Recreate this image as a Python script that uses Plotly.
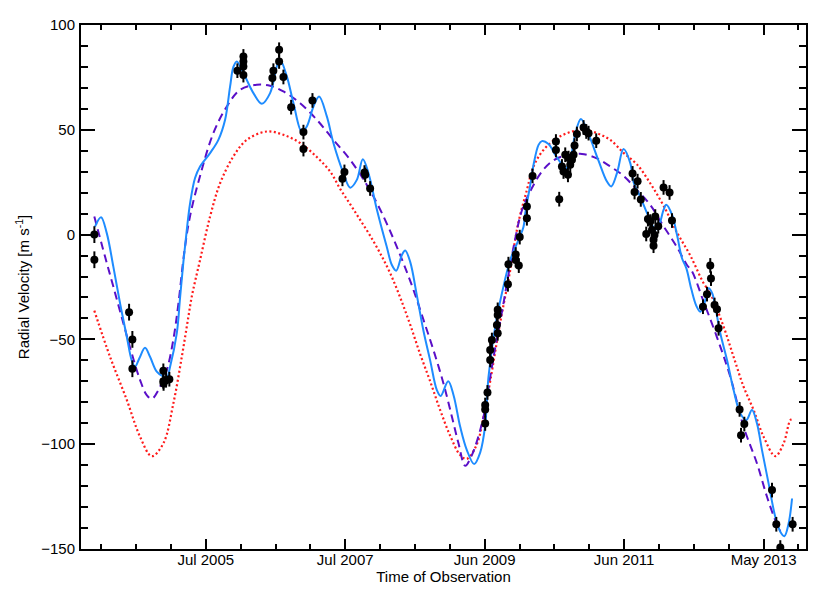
import numpy as np
import plotly.graph_objects as go

# ---------------- data ----------------
obs_year = [2004.023, 2004.023, 2004.508, 2004.554, 2004.554, 2004.987, 2004.987, 2004.990, 2005.025, 2005.071,
            2006.022, 2006.106, 2006.106, 2006.106, 2006.106, 2006.511, 2006.525, 2006.605, 2006.605, 2006.665,
            2006.773, 2006.945, 2006.945, 2007.071, 2007.490, 2007.518, 2007.798, 2007.808, 2007.877,
            2009.485, 2009.485, 2009.485, 2009.517, 2009.555, 2009.555, 2009.579, 2009.649, 2009.660, 2009.660,
            2009.660, 2009.803, 2009.810, 2009.912, 2009.912, 2009.955, 2009.968, 2010.068, 2010.068, 2010.147,
            2010.474, 2010.474, 2010.520, 2010.558, 2010.580, 2010.604, 2010.642, 2010.650, 2010.674, 2010.698,
            2010.720, 2010.734, 2010.767, 2010.860, 2010.898, 2010.930, 2011.037,
            2011.545, 2011.573, 2011.615, 2011.660, 2011.978, 2012.062, 2012.096, 2011.760, 2011.862, 2011.792,
            2011.904, 2011.736, 2011.816, 2011.852, 2011.838, 2011.838,
            2012.529, 2012.585, 2012.631, 2012.641, 2012.691, 2012.725, 2012.747, 2013.041, 2013.061, 2013.107,
            2013.494, 2013.554, 2013.610, 2013.782]
obs_rv = [0.0, -12.0, -37.0, -50.0, -64.0, -65.0, -70.0, -71.0, -69.5, -69.0,
          78.2, 85.0, 82.6, 80.2, 76.1, 74.7, 78.2, 88.2, 82.6, 75.2,
          60.8, 48.9, 40.8, 64.0, 26.6, 29.9, 29.6, 28.5, 22.0,
          -90.1, -83.4, -81.3, -75.3, -59.8, -55.1, -50.3, -43.1, -47.1, -38.3,
          -35.9, -23.7, -14.1, -9.5, -12.1, -14.8, -1.2, 7.8, 13.4, 28.0,
          44.4, 40.4, 16.9, 32.5, 30.1, 38.1, 28.5, 36.5, 33.3, 35.7,
          38.1, 42.5, 48.0, 51.1, 49.2, 48.4, 44.8,
          29.2, 20.3, 25.5, 16.8, 22.5, 20.1, 6.7, 7.4, 8.6, 6.2,
          4.0, 0.3, 2.2, -0.2, -2.5, -5.3,
          -34.4, -28.4, -14.7, -21.0, -33.6, -35.6, -44.7, -83.4, -95.7, -90.4,
          -121.9, -138.2, -149.3, -138.2]
obs_err = [4.0, 4.0, 4.0, 4.0, 4.0, 3.5, 3.5, 3.5, 3.5, 3.5,
           3.5, 3.5, 3.5, 3.5, 3.5, 3.5, 3.5, 3.5, 3.5, 3.5,
           3.5, 3.5, 3.5, 3.5, 3.5, 3.5, 3.5, 3.5, 3.5,
           3.5, 3.5, 3.5, 3.5, 3.5, 3.5, 3.5, 3.5, 3.5, 3.5,
           3.5, 3.5, 3.5, 3.5, 3.5, 3.5, 3.5, 3.5, 3.5, 3.5,
           3.5, 3.5, 3.5, 3.5, 3.5, 3.5, 3.5, 3.5, 3.5, 3.5,
           3.5, 3.5, 3.5, 3.5, 3.5, 3.5, 3.5,
           3.5, 3.5, 3.5, 3.5, 3.5, 3.5, 3.5, 3.5, 3.5, 3.5,
           3.5, 3.5, 3.5, 3.5, 3.5, 3.5,
           3.5, 3.5, 3.5, 3.5, 3.5, 3.5, 3.5, 3.5, 3.5, 3.5,
           3.5, 3.5, 3.5, 3.5]

# full model (blue solid)
full_year = [2004.032, 2004.116, 2004.196, 2004.288, 2004.382, 2004.476, 2004.545, 2004.592, 2004.652, 2004.731,
             2004.801, 2004.895, 2004.987, 2005.035, 2005.081, 2005.175, 2005.221, 2005.267, 2005.314, 2005.361,
             2005.430, 2005.500, 2005.640, 2005.756, 2005.850, 2005.920, 2005.966, 2006.014, 2006.106, 2006.246,
             2006.363, 2006.479, 2006.573, 2006.619, 2006.713, 2006.805, 2006.922, 2006.992, 2007.085, 2007.164,
             2007.272, 2007.364, 2007.504, 2007.598, 2007.691, 2007.775, 2007.854, 2007.971, 2008.111, 2008.181,
             2008.241, 2008.321, 2008.367, 2008.437, 2008.530, 2008.623, 2008.716, 2008.810, 2008.863, 2008.968,
             2009.042, 2009.136, 2009.229, 2009.331, 2009.415, 2009.485, 2009.531, 2009.625, 2009.719, 2009.835,
             2009.951, 2010.021, 2010.045, 2010.115, 2010.161, 2010.231, 2010.278, 2010.370, 2010.464, 2010.558,
             2010.604, 2010.674, 2010.744, 2010.823, 2010.930, 2011.069, 2011.187, 2011.247, 2011.327, 2011.419,
             2011.513, 2011.559, 2011.653, 2011.769, 2011.862, 2011.908, 2011.978, 2012.016, 2012.096, 2012.166,
             2012.236, 2012.296, 2012.366, 2012.436, 2012.491, 2012.547, 2012.608, 2012.659, 2012.715, 2012.771,
             2012.865, 2012.957, 2013.051, 2013.135, 2013.214, 2013.284, 2013.354, 2013.446, 2013.540, 2013.610,
             2013.666, 2013.726, 2013.774]
full_rv = [3.8, 8.3, 0.7, -15.3, -32.8, -48.7, -60.0, -63.0, -59.0, -54.0,
           -58.3, -65.4, -67.8, -68.3, -63.0, -47.0, -30.0, -13.0, 2.0, 15.0,
           27.0, 32.5, 38.9, 45.2, 54.8, 70.7, 80.0, 82.6, 77.1, 67.5,
           62.4, 67.5, 80.2, 83.4, 75.5, 62.8, 49.0, 51.6, 61.1, 65.9,
           56.4, 43.7, 29.3, 22.4, 26.1, 36.0, 29.3, 12.0, -6.0, -14.5,
           -17.2, -9.7, -7.6, -13.0, -29.0, -46.0, -60.0, -74.2, -77.0, -70.0,
           -76.5, -91.7, -102.8, -109.5, -104.0, -91.0, -68.0, -44.0, -28.0, -12.1,
           -2.5, 3.8, 10.2, 23.7, 33.3, 42.8, 44.6, 43.2, 38.1, 33.3,
           31.0, 36.0, 48.0, 55.1, 47.9, 35.3, 25.3, 23.0, 29.3, 40.8,
           34.1, 25.0, 18.0, 8.6, 2.5, 3.8, 11.8, 14.2, 9.5, -0.1,
           -11.3, -16.0, -26.0, -34.0, -36.8, -33.0, -25.6, -28.0, -37.0, -47.1,
           -59.8, -74.2, -85.3, -88.5, -83.7, -90.1, -102.8, -118.7, -134.7, -141.8,
           -143.9, -137.8, -125.9]

# long-period orbit fit (purple dashed)
long_year = [2004.022, 2004.172, 2004.288, 2004.428, 2004.545, 2004.662, 2004.755, 2004.825, 2004.917, 2005.035,
             2005.127, 2005.197, 2005.281, 2005.361, 2005.500, 2005.686, 2005.874, 2006.060, 2006.293, 2006.479,
             2006.665, 2006.899, 2007.132, 2007.364, 2007.598, 2007.831, 2008.017, 2008.203, 2008.343, 2008.483,
             2008.623, 2008.762, 2008.902, 2009.020, 2009.112, 2009.206, 2009.299, 2009.415, 2009.485, 2009.555,
             2009.625, 2009.719, 2009.811, 2009.905, 2009.998, 2010.138, 2010.278, 2010.418, 2010.558, 2010.698,
             2010.837, 2011.037, 2011.233, 2011.419, 2011.606, 2011.792, 2011.978, 2012.166, 2012.305, 2012.375,
             2012.538, 2012.725, 2012.911, 2013.097, 2013.284, 2013.424, 2013.540, 2013.610]
long_rv = [8.6, -10.5, -24.8, -42.3, -56.6, -69.4, -76.6, -78.4, -74.2, -64.6,
           -50.0, -33.0, -8.0, 9.0, 28.0, 48.4, 61.1, 69.1, 71.5, 71.0,
           68.3, 62.7, 54.8, 45.2, 35.7, 23.7, 12.0, -2.0, -13.7, -26.4,
           -40.7, -55.1, -71.0, -86.9, -99.6, -110.3, -105.2, -93.3, -83.0, -68.0,
           -54.0, -37.0, -19.0, -2.0, 11.5, 22.2, 30.1, 34.9, 37.3, 38.1,
           38.5, 36.5, 32.5, 28.0, 21.3, 14.2, 4.0, -6.0, -14.5, -17.5,
           -32.0, -49.0, -67.8, -91.7, -109.2, -125.1, -136.3, -141.5]

# alternative orbit fit (red dotted)
alt_year = [2004.022, 2004.242, 2004.476, 2004.662, 2004.825, 2004.987, 2005.127, 2005.245, 2005.337, 2005.384,
            2005.500, 2005.640, 2005.780, 2005.966, 2006.153, 2006.433, 2006.665, 2006.899, 2007.132, 2007.318,
            2007.458, 2007.598, 2007.738, 2007.877, 2008.017, 2008.157, 2008.297, 2008.437, 2008.576, 2008.716,
            2008.856, 2008.996, 2009.136, 2009.229, 2009.369, 2009.462, 2009.555, 2009.695, 2009.835, 2009.947,
            2010.068, 2010.161, 2010.300, 2010.488, 2010.674, 2010.860, 2011.047, 2011.233, 2011.419, 2011.606,
            2011.792, 2011.978, 2012.166, 2012.352, 2012.538, 2012.631, 2012.817, 2012.957, 2013.097, 2013.237,
            2013.377, 2013.540, 2013.656, 2013.750, 2013.782]
alt_rv = [-36.3, -58.3, -78.9, -96.5, -105.7, -99.6, -80.5, -58.3, -39.2, -29.6,
          -12.1, 8.6, 24.5, 37.3, 45.2, 49.2, 47.6, 43.7, 37.0, 30.1,
          21.8, 14.5, 7.0, -0.5, -8.9, -18.4, -30.0, -43.0, -57.0, -70.0,
          -83.7, -96.0, -105.2, -107.0, -100.0, -87.0, -70.0, -42.0, -17.0, 5.4,
          21.3, 32.5, 40.4, 46.0, 48.9, 50.0, 48.4, 45.2, 39.0, 33.5,
          24.5, 13.8, 1.0, -10.0, -23.2, -28.0, -43.9, -58.3, -72.6, -83.7,
          -96.5, -105.7, -99.6, -88.5, -88.0]

# x-axis tick marks (decimal year) and labels
tick_years = [2005.580, 2007.529, 2009.478, 2011.427, 2013.376]
tick_labels = ["Jul 2005", "Jul 2007", "Jun 2009", "Jun 2011", "May 2013"]
x_range = [2003.836, 2013.969]
y_range = [-150, 100]

# minor ticks: 4 intervals per major interval
step = (tick_years[-1] - tick_years[0]) / (len(tick_years) - 1) / 4.0
minor_vals = [tick_years[0] + k * step for k in range(-4, 22)
              if x_range[0] < tick_years[0] + k * step < x_range[1] and k % 4 != 0]

# ---------------- figure ----------------
fig = go.Figure()

fig.add_trace(go.Scatter(x=alt_year, y=alt_rv, mode="lines", line_shape="spline",
                         line=dict(color="#FF1A1A", width=2.2, dash="2px,2.5px"), hoverinfo="skip"))
fig.add_trace(go.Scatter(x=long_year, y=long_rv, mode="lines", line_shape="spline",
                         line=dict(color="#5A0FC8", width=2, dash="8px,5px"), hoverinfo="skip"))
fig.add_trace(go.Scatter(x=full_year, y=full_rv, mode="lines", line_shape="spline",
                         line=dict(color="#1E8CFF", width=2), hoverinfo="skip"))
fig.add_trace(go.Scatter(x=obs_year, y=obs_rv, mode="markers",
                         marker=dict(color="black", size=8, line=dict(width=0)),
                         error_y=dict(type="data", array=obs_err, color="black", thickness=2, width=0)))

axis_common = dict(showline=True, linecolor="black", linewidth=2, mirror="ticks",
                   ticks="inside", tickcolor="black", tickwidth=1.8,
                   showgrid=False, zeroline=False)

fig.update_xaxes(range=x_range, tickmode="array", tickvals=tick_years, ticktext=tick_labels,
                 ticklen=10, ticklabelstandoff=-4,
                 minor=dict(tickmode="array", tickvals=minor_vals, ticks="inside", ticklen=5,
                            tickwidth=1.5, tickcolor="black", showgrid=False),
                 title=dict(text="Time of Observation", standoff=4, font=dict(size=15)),
                 **axis_common)
fig.update_yaxes(range=y_range, tick0=0, dtick=50, ticklen=14, ticklabelstandoff=1,
                 minor=dict(dtick=10, ticks="inside", ticklen=7, tickwidth=1.5,
                            tickcolor="black", showgrid=False),
                 title=dict(text="Radial Velocity [m s<sup>-1</sup>]", standoff=8, font=dict(size=15)),
                 **axis_common)

# the page adds an 8 px body margin, so the figure is drawn 8 px in from the window's corner
fig.update_layout(width=822, height=592, showlegend=False,
                  margin=dict(l=73, r=24, t=17, b=51, autoexpand=False),
                  plot_bgcolor="white", paper_bgcolor="white",
                  font=dict(family="Liberation Sans, Arial, sans-serif", size=15, color="black"))

fig.write_html("out.html")
